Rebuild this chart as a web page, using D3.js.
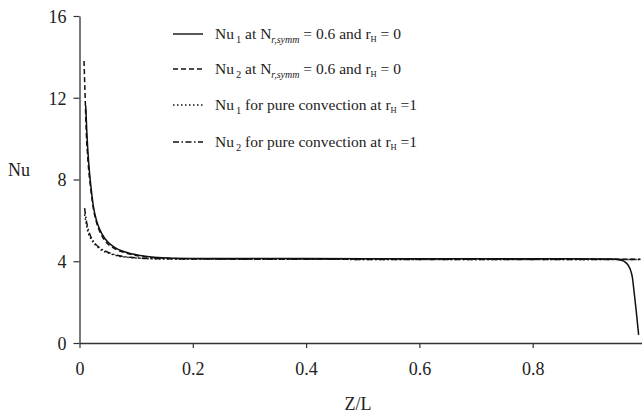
<!DOCTYPE html>
<html><head><meta charset="utf-8">
<script src="https://cdn.jsdelivr.net/npm/d3@7"></script>
<style>
body{margin:0;background:#fff;}
svg{display:block;font-family:"Liberation Serif","Times New Roman",serif;}
</style></head>
<body><svg id="c" width="642" height="415"></svg>
<script>
// Data: [Z/L, Nu]
const nu1Mixed = [[0.011,11.6],[0.013,10.3],[0.016,8.9],[0.02,7.7],[0.025,6.6],[0.03,6.0],[0.035,5.6],[0.045,5.1],[0.06,4.72],[0.085,4.42],[0.1,4.32],[0.13,4.2],[0.2,4.14],[0.4,4.13],[0.6,4.12],[0.8,4.12],[0.94,4.11],[0.955,4.06],[0.965,3.92],[0.972,3.62],[0.976,3.2],[0.979,2.5],[0.983,1.5],[0.987,0.4]];
const nu2Mixed = [[0.008,13.8],[0.01,12.0],[0.012,10.3],[0.015,8.9],[0.02,7.5],[0.025,6.5],[0.03,5.9],[0.035,5.5],[0.045,5.0],[0.06,4.65],[0.085,4.38],[0.1,4.28],[0.13,4.18],[0.2,4.12],[0.5,4.11],[0.8,4.1],[0.99,4.1]];
const nu1Pure = [[0.009,6.3],[0.012,5.8],[0.016,5.35],[0.02,5.1],[0.028,4.8],[0.036,4.6],[0.054,4.37],[0.07,4.25],[0.09,4.18],[0.15,4.11],[0.3,4.1],[0.6,4.09],[0.99,4.09]];
const nu2Pure = [[0.009,6.6],[0.012,6.0],[0.016,5.5],[0.02,5.2],[0.028,4.85],[0.036,4.65],[0.054,4.4],[0.07,4.27],[0.09,4.19],[0.15,4.12],[0.3,4.1],[0.6,4.09],[0.99,4.09]];
const xTicks = [0, 0.2, 0.4, 0.6, 0.8];
const yTicks = [0, 4, 8, 12, 16];
const seriesDash = ["", "5,3", "1.5,2.5", "6,2.5,1.5,2.5"];

const svg = d3.select("#c");
const x = d3.scaleLinear().domain([0,1]).range([79.5,646]);
const y = d3.scaleLinear().domain([0,16]).range([343,16]);

const axisColor = "#333";
const gx = svg.append("g").attr("transform","translate(0,343)")
  .call(d3.axisBottom(x).tickValues(xTicks).tickSize(5).tickSizeOuter(0).tickFormat(d3.format("")));
const gy = svg.append("g").attr("transform","translate(79.5,0)")
  .call(d3.axisLeft(y).tickValues(yTicks).tickSize(6).tickSizeOuter(0));
[gx,gy].forEach(g=>{
  g.select(".domain").attr("stroke",axisColor).attr("stroke-width",1.3);
  g.selectAll(".tick line").attr("stroke",axisColor).attr("stroke-width",1.2);
  g.selectAll(".tick text").attr("font-family","Liberation Serif, serif").attr("font-size",18).attr("fill","#222");
});
gx.selectAll(".tick text").attr("dy","1.35em");
gy.selectAll(".tick text").attr("x",-13).attr("dy","0.35em");

svg.append("text").attr("x",8).attr("y",176).attr("font-size",18).attr("fill","#222").text("Nu");
svg.append("text").attr("x",358).attr("y",410).attr("text-anchor","middle").attr("font-size",18).attr("fill","#222").text("Z/L");

const line = d3.line().x(d=>x(d[0])).y(d=>y(d[1])).curve(d3.curveMonotoneX);
const all = [nu1Mixed, nu2Mixed, nu1Pure, nu2Pure];
all.forEach((s,i)=>{
  svg.append("path").datum(s).attr("d",line).attr("fill","none")
    .attr("stroke","#111").attr("stroke-width",1.5)
    .attr("stroke-dasharray",seriesDash[i]||null);
});

// legend
const leg = svg.append("g").attr("font-size",15.5).attr("fill","#222");
const rows = [34,69,105,142];
const labels = [
  [["Nu",""],["1","sub"],[" at N",""],["r,symm","subi"],[" = 0.6 and r",""],["H","subs"],[" = 0",""]],
  [["Nu",""],["2","sub"],[" at N",""],["r,symm","subi"],[" = 0.6 and r",""],["H","subs"],[" = 0",""]],
  [["Nu",""],["1","sub"],[" for pure convection at r",""],["H","subs"],[" =1",""]],
  [["Nu",""],["2","sub"],[" for pure convection at r",""],["H","subs"],[" =1",""]]
];
rows.forEach((ry,i)=>{
  leg.append("line").attr("x1",173).attr("x2",203).attr("y1",ry).attr("y2",ry)
    .attr("stroke","#111").attr("stroke-width",1.4).attr("stroke-dasharray",seriesDash[i]||null);
  const t = leg.append("text").attr("x",215).attr("y",ry+5);
  let shift = 0;
  labels[i].forEach(([s,k])=>{
    const ts = t.append("tspan").text(s);
    if(k==="sub"){ts.attr("font-size",10.5).attr("dy",4-shift).attr("dx",2); shift=4;}
    else if(k==="subi"){ts.attr("font-size",10).attr("font-style","italic").attr("dy",4-shift); shift=4;}
    else if(k==="subs"){ts.attr("font-size",8.5).attr("dy",3-shift); shift=3;}
    else {ts.attr("dy",-shift); shift=0;}
  });
});
</script></body></html>
